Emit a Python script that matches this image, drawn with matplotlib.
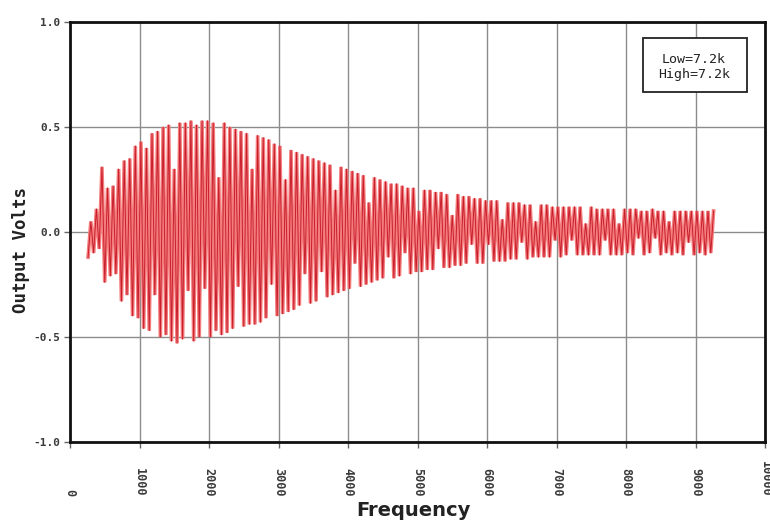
import numpy as np
import matplotlib
matplotlib.use("Agg")
import matplotlib.pyplot as plt
from matplotlib.patches import Rectangle

# ---- data ----
freq_start = 260.0     # Hz, first sample
freq_step = 40.0       # Hz, sample spacing
volts = [
    -0.12, 0.05, -0.10, 0.11, -0.08, 0.31, -0.24, 0.21, -0.21, 0.22,
    -0.20, 0.30, -0.33, 0.34, -0.30, 0.35, -0.40, 0.41, -0.41, 0.43,
    -0.46, 0.40, -0.47, 0.47, -0.30, 0.48, -0.50, 0.50, -0.49, 0.51,
    -0.52, 0.30, -0.53, 0.52, -0.51, 0.52, -0.28, 0.53, -0.52, 0.51,
    -0.50, 0.53, -0.27, 0.53, -0.50, 0.52, -0.47, 0.26, -0.49, 0.52,
    -0.48, 0.50, -0.46, 0.49, -0.26, 0.48, -0.45, 0.47, -0.44, 0.30,
    -0.44, 0.46, -0.43, 0.45, -0.41, 0.44, -0.25, 0.42, -0.40, 0.41,
    -0.39, 0.25, -0.38, 0.39, -0.37, 0.38, -0.35, 0.37, -0.20, 0.36,
    -0.34, 0.35, -0.33, 0.34, -0.19, 0.33, -0.31, 0.32, -0.30, 0.20,
    -0.29, 0.31, -0.28, 0.30, -0.27, 0.29, -0.15, 0.28, -0.26, 0.27,
    -0.25, 0.14, -0.24, 0.26, -0.23, 0.25, -0.22, 0.24, -0.12, 0.23,
    -0.22, 0.23, -0.21, 0.22, -0.10, 0.21, -0.20, 0.21, -0.19, 0.10,
    -0.19, 0.20, -0.18, 0.20, -0.18, 0.19, -0.08, 0.19, -0.17, 0.18,
    -0.17, 0.08, -0.16, 0.18, -0.16, 0.17, -0.15, 0.17, -0.06, 0.16,
    -0.15, 0.16, -0.15, 0.15, -0.06, 0.15, -0.14, 0.15, -0.14, 0.06,
    -0.14, 0.14, -0.13, 0.14, -0.13, 0.14, -0.05, 0.13, -0.13, 0.13,
    -0.12, 0.05, -0.12, 0.13, -0.12, 0.13, -0.12, 0.12, -0.04, 0.12,
    -0.12, 0.12, -0.11, 0.12, -0.04, 0.12, -0.11, 0.12, -0.11, 0.04,
    -0.11, 0.12, -0.11, 0.11, -0.11, 0.11, -0.04, 0.11, -0.11, 0.11,
    -0.11, 0.04, -0.11, 0.11, -0.10, 0.11, -0.11, 0.11, -0.03, 0.10,
    -0.11, 0.10, -0.10, 0.11, -0.03, 0.10, -0.11, 0.10, -0.10, 0.05,
    -0.11, 0.10, -0.10, 0.10, -0.11, 0.10, -0.05, 0.10, -0.11, 0.10,
    -0.10, 0.10, -0.11, 0.10, -0.10, 0.10,
]
freqs = freq_start + freq_step * np.arange(len(volts))

x_ticks = [0, 1000, 2000, 3000, 4000, 5000, 6000, 7000, 8000, 9000, 10000]
y_ticks = [-1.0, -0.5, 0.0, 0.5, 1.0]
y_tick_labels = ["-1.0", "-0.5", "0.0", "0.5", "1.0"]
legend_text = "Low=7.2k\nHigh=7.2k"

# ---- figure ----
W, H = 770, 521
L, R, T, B = 70, 765, 22, 442
fig = plt.figure(figsize=(W / 100, H / 100), dpi=100)
ax = fig.add_axes([L / W, 1 - B / H, (R - L) / W, (B - T) / H])

ax.plot(freqs, volts, color="#f47c7c", lw=2.6, solid_joinstyle="bevel",
        zorder=3)
ax.plot(freqs, volts, color="#c81f2d", lw=0.7, zorder=4)

ax.set_xlim(0, 10000)
ax.set_ylim(-1.0, 1.0)
ax.set_xticks(x_ticks)
ax.set_yticks(y_ticks)
ax.set_yticklabels(y_tick_labels, family="DejaVu Sans Mono", fontsize=8,
                   fontweight="bold", color="#3a3a3a")
ax.set_xticklabels([str(t) for t in x_ticks], family="DejaVu Sans Mono",
                   fontsize=8.5, fontweight="bold", color="#3a3a3a",
                   rotation=270, va="bottom", ha="center")
ax.tick_params(axis="x", length=4, width=1, color="#666666", pad=35)
ax.tick_params(axis="y", length=4, width=1, color="#666666", pad=3)

ax.grid(True, color="#8c8c8c", lw=1.0, zorder=1)
for s in ax.spines.values():
    s.set_linewidth(2.0)
    s.set_color("#111111")

fig.text(413 / W, 1 - 516 / H, "Frequency", ha="center", va="baseline",
         fontsize=14, fontweight="bold", color="#222222")
fig.text(21 / W, 1 - 250 / H, "Output Volts", rotation=90, ha="center",
         va="center", family="DejaVu Sans Mono", fontsize=12.5,
         fontweight="bold", color="#222222")

# legend-like annotation box
def ax_x(px):
    return (px - L) / (R - L)

def ax_y(py):
    return 1 - (py - T) / (B - T)

ax.add_patch(Rectangle((ax_x(643), ax_y(92)), ax_x(747) - ax_x(643),
                       ax_y(38) - ax_y(92), transform=ax.transAxes,
                       fc="white", ec="#222222", lw=1.3, zorder=5))
ax.text(ax_x(694), ax_y(67), legend_text, transform=ax.transAxes,
        ha="center", va="center", multialignment="center",
        family="DejaVu Sans Mono", fontsize=9.5, color="#222222",
        linespacing=1.15, zorder=6)

fig.savefig("out.png", dpi=100)
